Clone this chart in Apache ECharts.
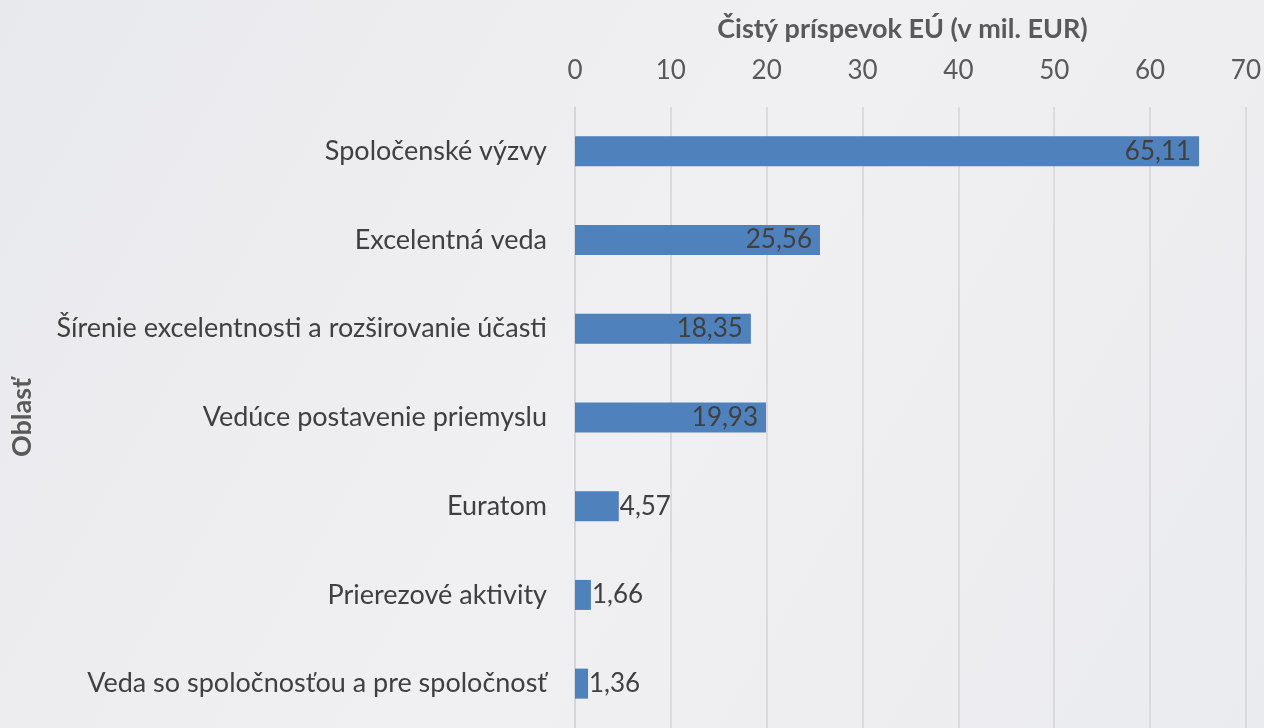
<!DOCTYPE html>
<html>
<head>
<meta charset="utf-8">
<script src="https://cdn.jsdelivr.net/npm/echarts@6/dist/echarts.min.js"></script>
<style>
html,body{margin:0;padding:0;background:#eeeff1;}
#c{width:1264px;height:728px;}
</style>
</head>
<body>
<div id="c"></div>
<script>
const categories = [
  "Spoločenské výzvy",
  "Excelentná veda",
  "Šírenie excelentnosti a rozširovanie účasti",
  "Vedúce postavenie priemyslu",
  "Euratom",
  "Prierezové aktivity",
  "Veda so spoločnosťou a pre spoločnosť"
];
const values = [65.11, 25.56, 18.35, 19.93, 4.57, 1.66, 1.36];
const xTitle = "Čistý príspevok EÚ (v mil. EUR)";
const yTitle = "Oblasť";

const font = "Lato, 'Open Sans', sans-serif";
const chart = echarts.init(document.getElementById('c'));
chart.setOption({
  backgroundColor: {
    type: 'linear', x: 0, y: 0, x2: 1, y2: 1,
    colorStops: [{offset: 0, color: '#e8e9ec'}, {offset: 0.5, color: '#f0f0f2'}, {offset: 1, color: '#eaebee'}]
  },
  animation: false,
  grid: {left: 575, right: 17, top: 107, height: 623, containLabel: false},
  xAxis: {
    type: 'value', position: 'top', min: 0, max: 70, interval: 10,
    name: xTitle, nameLocation: 'middle', nameGap: 64,
    nameTextStyle: {fontFamily: font, fontSize: 27, fontWeight: 'bold', color: '#595959', padding: [0, 16, 0, 0]},
    axisLabel: {fontFamily: font, fontSize: 26, color: '#595959', margin: 23},
    axisLine: {show: false}, axisTick: {show: false},
    splitLine: {lineStyle: {color: '#d4d4d6', width: 1.5}}
  },
  yAxis: {
    type: 'category', data: categories, inverse: true,
    name: yTitle, nameLocation: 'middle', nameRotate: 90, nameGap: 539,
    nameTextStyle: {fontFamily: font, fontSize: 27, fontWeight: 'bold', color: '#595959'},
    axisLabel: {fontFamily: font, fontSize: 27, color: '#404040', margin: 28},
    axisLine: {show: true, lineStyle: {color: '#d4d4d6', width: 1.5}}, axisTick: {show: false}
  },
  series: [{
    type: 'bar', data: values.map(v => ({
      value: v,
      label: {position: v > 10 ? 'insideRight' : 'right', distance: v > 10 ? 8 : 1}
    })),
    barWidth: 30,
    itemStyle: {color: '#4f81bd'},
    label: {
      show: true, fontFamily: font, fontSize: 26, color: '#404040',
      formatter: p => p.value.toFixed(2).replace('.', ',')
    }
  }]
});
</script>
</body>
</html>
